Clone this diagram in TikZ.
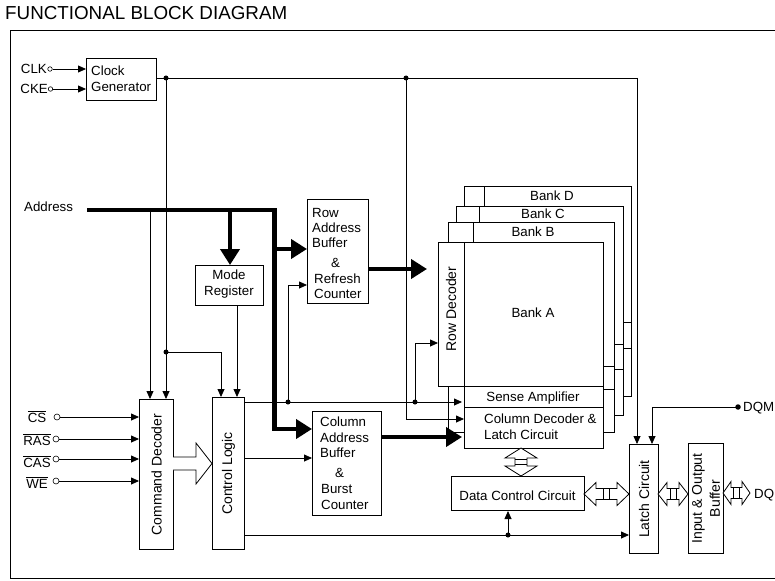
\documentclass[tikz,border=0pt]{standalone}
\usepackage{fontspec}
\setmainfont{Liberation Sans}
\usetikzlibrary{arrows.meta}
\newcommand{\hdarr}[4]{% x1, x2, y, head length : horizontal double hollow arrow
  \draw[ln,fill=white] (#1,#3) -- ({#1+#4},{#3-11.5}) -- ({#1+#4},{#3-5.5}) -- ({#2-#4},{#3-5.5}) -- ({#2-#4},{#3-11.5}) -- (#2,#3) -- ({#2-#4},{#3+11.5}) -- ({#2-#4},{#3+5.5}) -- ({#1+#4},{#3+5.5}) -- ({#1+#4},{#3+11.5}) -- cycle;
  \draw[ln] ({(#1+#2)/2-3},{#3-5.5}) -- ({(#1+#2)/2-3},{#3+5.5});
  \draw[ln] ({(#1+#2)/2+3},{#3-5.5}) -- ({(#1+#2)/2+3},{#3+5.5});}
\newcommand{\vdarr}[3]{% y1, y2, x : vertical double hollow arrow
  \draw[ln,fill=white] (#3,#1) -- ({#3-16},{#1+10}) -- ({#3-6},{#1+10}) -- ({#3-6},{#2-10}) -- ({#3-16},{#2-10}) -- (#3,#2) -- ({#3+16},{#2-10}) -- ({#3+6},{#2-10}) -- ({#3+6},{#1+10}) -- ({#3+16},{#1+10}) -- cycle;
  \draw[ln] ({#3-6},{(#1+#2)/2-2.5}) -- ({#3+6},{(#1+#2)/2-2.5});
  \draw[ln] ({#3-6},{(#1+#2)/2+2.5}) -- ({#3+6},{(#1+#2)/2+2.5});}
\begin{document}
\begin{tikzpicture}[x=1pt,y=-1pt,
  font=\fontsize{13.3}{15}\selectfont,
  box/.style={draw, line width=1pt, fill=white, inner sep=0, anchor=north west},
  ln/.style={line width=0.8pt},
  arr/.style={line width=0.8pt, -{Triangle[length=8pt,width=7pt]}},
  barr/.style={line width=4.5pt, -{Triangle[length=16pt,width=19pt]}},
  bus/.style={line width=4.5pt, line join=miter},
  dot/.style={circle, fill, inner sep=0, minimum size=5pt},
  pin/.style={circle, draw, line width=0.6pt, fill=white, inner sep=0, minimum size=6pt},
  t/.style={inner sep=0, anchor=base west},
  tc/.style={inner sep=0, anchor=base},
  rt/.style={inner sep=0, rotate=90, font=\fontsize{14}{17}\selectfont, align=center},
]
\useasboundingbox (0,0) rectangle (775,580);

% title and frame
\node[t, font=\fontsize{18.8}{20}\selectfont] (title) at (5,20) {FUNCTIONAL BLOCK DIAGRAM};
\draw[line width=1pt] (790,31) -- (10,31) -- (10,578) -- (790,578);

% boxes
\node[box, minimum width=70, minimum height=42] (clk) at (86,58) {};
\node[box, minimum width=68, minimum height=40] (mode) at (195,265) {};
\node[box, minimum width=61, minimum height=104] (rab) at (307,199) {};
\node[box, minimum width=34, minimum height=150] (cmd) at (139,399) {};
\node[box, minimum width=32, minimum height=152] (ctl) at (212,397) {};
\node[box, minimum width=69, minimum height=104] (cab) at (312,411) {};
\node[box, minimum width=133, minimum height=34] (dcc) at (451,476) {};
\node[box, minimum width=29, minimum height=109] (latch) at (629,444) {};
\node[box, minimum width=35, minimum height=110] (iob) at (688,443) {};

% banks (back to front)
\draw[line width=1pt, fill=white] (464,186) rectangle (631,396);
\draw[line width=1pt] (484,186) -- (484,206) (623,322) -- (631,322) (623,348) -- (631,348);
\draw[line width=1pt, fill=white] (456,206) rectangle (623,415);
\draw[line width=1pt] (479,206) -- (479,222) (614,344) -- (623,344) (614,369) -- (623,369);
\draw[line width=1pt, fill=white] (448,222) rectangle (614,432);
\draw[line width=1pt] (473,222) -- (473,242) (603,366) -- (614,366) (603,389) -- (614,389);
\node[box, minimum width=26, minimum height=144] (rowdec) at (438,242) {};
\node[box, minimum width=139, minimum height=144] (banka) at (464,242) {};
\node[box, minimum width=139, minimum height=21] (sense) at (464,386) {};
\node[box, minimum width=139, minimum height=41] (coldec) at (464,407) {};
\node[tc] (lbd) at (552,200) {Bank D};
\node[tc] (lbc) at (543,218) {Bank C};
\node[tc] (lbb) at (533,236) {Bank B};
\node[tc] (lba) at (533,317) {Bank A};
\node[rt] (lrd) at (451,309) {Row Decoder};
\node[tc] (lsa) at (533,401) {Sense Amplifier};
\node[t] (lcd1) at (484,423) {Column Decoder \&};
\node[t] (lcd2) at (484,439) {Latch Circuit};

% box texts
\node[t] (lclk1) at (91,76) {Clock};
\node[t] (lclk2) at (91,92) {Generator};
\node[tc] (lmode1) at (229,279) {Mode};
\node[tc] (lmode2) at (229,295) {Register};
\node[t] (lrab1) at (312,217) {Row};
\node[t] (lrab2) at (312,232) {Address};
\node[t] (lrab3) at (312,247) {Buffer};
\node[t] (lrab4) at (331,267) {\&};
\node[t] (lrab5) at (314,283) {Refresh};
\node[t] (lrab6) at (314,298) {Counter};
\node[t] (lcab1) at (320,426) {Column};
\node[t] (lcab2) at (320,442) {Address};
\node[t] (lcab3) at (320,457) {Buffer};
\node[t] (lcab4) at (335,477) {\&};
\node[t] (lcab5) at (321,493) {Burst};
\node[t] (lcab6) at (321,509) {Counter};
\node[tc] (ldcc) at (517.5,500) {Data Control Circuit};
\node[rt] (lcmd) at (cmd.center) {Command Decoder};
\node[rt] (lctl) at (ctl.center) {Control Logic};
\node[rt] (llatch) at (latch.center) {Latch Circuit};
\node[rt, font=\fontsize{14}{18}\selectfont] (liob) at (iob.center) {Input \& Output\\Buffer};

% helper coordinates (rows)
\coordinate (y249) at (0,249);
\coordinate (y269) at (0,269);
\coordinate (y285) at (0,285);
\coordinate (y343) at (0,343);
\coordinate (y429) at (0,429);
\coordinate (y437) at (0,437);
\coordinate (y458) at (0,458);

% external signals
\node[inner sep=0, anchor=base east] (tclk) at (47,74) {CLK};
\node[inner sep=0, anchor=base east] (tcke) at (48,94) {CKE};
\node[pin, minimum size=4.5pt] (pclk) at (50,69) {};
\node[pin, minimum size=4.5pt] (pcke) at (50.5,89) {};
\draw[arr] (pclk) -- (pclk -| clk.west);
\draw[arr] (pcke) -- (pcke -| clk.west);
\node[t] (taddr) at (24,211) {Address};
\node[tc] (tcs) at (37,422) {$\overline{\mbox{CS}}$};
\node[tc] (tras) at (37,445) {$\overline{\mbox{RAS}}$};
\node[tc] (tcas) at (37,467) {$\overline{\mbox{CAS}}$};
\node[tc] (twe) at (37,488) {$\overline{\mbox{WE}}$};
\node[pin] (pcs) at (57,417) {};
\node[pin] (pras) at (56,439) {};
\node[pin] (pcas) at (56,459) {};
\node[pin] (pwe) at (56,481) {};
\foreach \p in {pcs,pras,pcas,pwe} \draw[arr] (\p) -- (\p -| cmd.west);
\node[t] (tdqm) at (743,411) {DQM};
\node[t] (tdq) at (754,498) {DQ};

% clock distribution
\coordinate (c1) at (166,78);
\coordinate (c2) at (406,78);
\coordinate (c3) at (637,78);
\draw[ln] (clk.east |- c1) -- (c3);
\draw[arr] (c3) -- (c3 |- latch.north);
\draw[arr] (c1) -- (c1 |- cmd.north);
\coordinate (c4) at (166,352);
\coordinate (c5) at (221,352);
\draw[arr] (c4) -- (c5) -- (c5 |- ctl.north);
\coordinate (c6) at (406,419);
\draw[arr] (c2) -- (c6) -- (c6 -| coldec.west);
\node[dot] (d1) at (c1) {};
\node[dot] (d2) at (c2) {};
\node[dot] (d4) at (c4) {};

% address bus
\coordinate (a0) at (87,210);
\coordinate (a1) at (274.5,210);
\coordinate (a2) at (274.5,429);
\coordinate (a3) at (230,210);
\coordinate (a4) at (274.5,249);
\coordinate (a5) at (150,210);
\coordinate (a6) at (237,305);
\draw[bus] (a0) -- (a1) -- (a2);
\draw[barr] ([xshift=-2.25pt]a2) -- (cab.west |- y429);
\draw[barr] (a3) -- (a3 |- mode.north);
\draw[barr] (a4) -- (rab.west |- y249);
\draw[barr] (rab.east |- y269) -- ([xshift=-11pt]rowdec.west |- y269);
\draw[barr] (cab.east |- y437) -- ([xshift=-2pt]coldec.west |- y437);
\draw[arr] (a5) -- (a5 |- cmd.north);
\draw[arr] (a6) -- (a6 |- ctl.north);

% control logic outputs
\coordinate (k1) at (288,402);
\coordinate (k2) at (415,402);
\draw[arr] (ctl.east |- k1) -- ([xshift=-2pt]sense.west |- k1);
\draw[arr] (k1) -- (k1 |- y285) -- (rab.west |- y285);
\draw[arr] (k2) -- (k2 |- y343) -- (rowdec.west |- y343);
\node[dot] (dk1) at (k1) {};
\node[dot] (dk2) at (k2) {};
\draw[arr] (ctl.east |- y458) -- (cab.west |- y458);
\coordinate (k3) at (508,535);
\draw[arr] (ctl.east |- k3) -- (latch.west |- k3);
\draw[arr] (k3) -- (k3 |- dcc.south);
\node[dot] (dk3) at (k3) {};

% DQM
\coordinate (q1) at (738,407);
\coordinate (q2) at (652,407);
\draw[arr] (q1) -- (q2) -- (q2 |- latch.north);
\node[dot, minimum size=5.5pt] (dq1) at (q1) {};

% hollow arrows
\draw[ln, fill=white] (173,457) -- (196,457) -- (196,443) -- (212,463.5) -- (196,484) -- (196,470) -- (173,470);
\vdarr{448}{476}{521}
\hdarr{584}{629}{494}{12}
\hdarr{658}{688}{494}{9}
\hdarr{723}{750}{493}{8}
\end{tikzpicture}
\end{document}
